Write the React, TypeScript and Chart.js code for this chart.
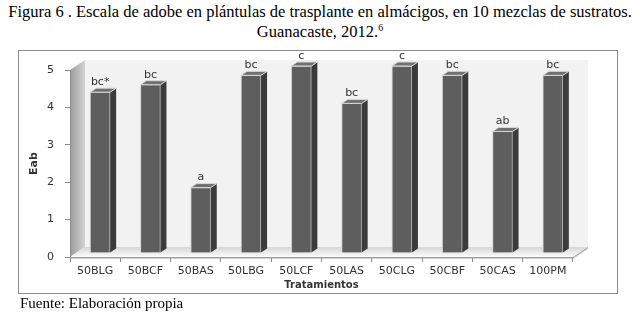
import React, { useEffect, useRef } from "react";
import { Chart, registerables } from "chart.js";

Chart.register(...registerables);

const categories = ["50BLG", "50BCF", "50BAS", "50LBG", "50LCF", "50LAS", "50CLG", "50CBF", "50CAS", "100PM"];
const values = [4.3, 4.5, 1.75, 4.75, 5.0, 4.0, 5.0, 4.75, 3.25, 4.75];
const letters = ["bc*", "bc", "a", "bc", "c", "bc", "c", "bc", "ab", "bc"];
const yMin = 0;
const yMax = 5;
const yStep = 1;
const yTitle = "Eab";
const xTitle = "Tratamientos";
const titleLine1 = "Figura 6 . Escala de adobe en plántulas de trasplante en almácigos, en 10 mezclas de sustratos.";
const titleLine2 = "Guanacaste, 2012.";
const titleNote = "6";
const footer = "Fuente: Elaboración propia";

// 3D look
const WALL_DX = 15;
const WALL_DY = -10;
const BAR_SHIFT_X = 5;
const BAR_SHIFT_Y = -4;
const BAR_DX = 6;
const BAR_DY = -4;

const threeD = {
  id: "threeD",
  beforeDraw(chart: any) {
    const { ctx, chartArea } = chart;
    const { left, right, top, bottom } = chartArea;
    ctx.save();
    // back wall
    ctx.fillStyle = "#f2f2f2";
    ctx.fillRect(left + WALL_DX, top + WALL_DY, right - left, bottom - top);
    // left wall
    const g = ctx.createLinearGradient(left, 0, left + WALL_DX, 0);
    g.addColorStop(0, "#9c9c9c");
    g.addColorStop(1, "#d2d2d2");
    ctx.fillStyle = g;
    ctx.beginPath();
    ctx.moveTo(left, bottom);
    ctx.lineTo(left, top);
    ctx.lineTo(left + WALL_DX, top + WALL_DY);
    ctx.lineTo(left + WALL_DX, bottom + WALL_DY);
    ctx.closePath();
    ctx.fill();
    // floor slab
    ctx.fillStyle = "#cfcfcf";
    ctx.beginPath();
    ctx.moveTo(left, bottom);
    ctx.lineTo(right, bottom);
    ctx.lineTo(right + WALL_DX, bottom + WALL_DY);
    ctx.lineTo(right + WALL_DX, bottom + WALL_DY + 2);
    ctx.lineTo(right, bottom + 2);
    ctx.lineTo(left, bottom + 2);
    ctx.closePath();
    ctx.fill();
    // floor top
    const fg = ctx.createLinearGradient(0, bottom + WALL_DY, 0, bottom);
    fg.addColorStop(0, "#d6d6d6");
    fg.addColorStop(1, "#fbfbfb");
    ctx.fillStyle = fg;
    ctx.beginPath();
    ctx.moveTo(left, bottom);
    ctx.lineTo(right, bottom);
    ctx.lineTo(right + WALL_DX, bottom + WALL_DY);
    ctx.lineTo(left + WALL_DX, bottom + WALL_DY);
    ctx.closePath();
    ctx.fill();
    ctx.strokeStyle = "#a8a8a8";
    ctx.lineWidth = 1;
    ctx.beginPath();
    ctx.moveTo(right, bottom + 0.5);
    ctx.lineTo(right + WALL_DX, bottom + WALL_DY + 0.5);
    ctx.stroke();
    ctx.restore();
  },
  beforeDatasetsDraw(chart: any) {
    chart.ctx.save();
    chart.ctx.translate(BAR_SHIFT_X, BAR_SHIFT_Y);
  },
  afterDatasetsDraw(chart: any) {
    const { ctx } = chart;
    const meta = chart.getDatasetMeta(0);
    meta.data.forEach((bar: any, i: number) => {
      const { x, y, base, width } = bar.getProps(["x", "y", "base", "width"], true);
      const l = x - width / 2;
      const r = x + width / 2;
      // side face
      ctx.fillStyle = "#3b3b3b";
      ctx.beginPath();
      ctx.moveTo(r, y);
      ctx.lineTo(r + BAR_DX, y + BAR_DY);
      ctx.lineTo(r + BAR_DX, base + BAR_DY);
      ctx.lineTo(r, base);
      ctx.closePath();
      ctx.fill();
      // top face
      ctx.fillStyle = "#707070";
      ctx.beginPath();
      ctx.moveTo(l, y);
      ctx.lineTo(l + BAR_DX, y + BAR_DY);
      ctx.lineTo(r + BAR_DX, y + BAR_DY);
      ctx.lineTo(r, y);
      ctx.closePath();
      ctx.fill();
      ctx.strokeStyle = "#d8d8d8";
      ctx.lineWidth = 1;
      ctx.stroke();
      // letter
      ctx.fillStyle = "#333333";
      ctx.font = "11px 'DejaVu Sans'";
      ctx.textAlign = "center";
      ctx.textBaseline = "middle";
      ctx.fillText(letters[i], x, y - 10);
    });
    ctx.restore();
  },
};

function ChartView() {
  const ref = useRef<HTMLCanvasElement | null>(null);
  useEffect(() => {
    if (!ref.current) return;
    Chart.defaults.font.family = "'DejaVu Sans', Verdana, sans-serif";
    Chart.defaults.color = "#333333";
    const chart = new Chart(ref.current, {
      type: "bar",
      data: {
        labels: categories,
        datasets: [
          {
            data: values,
            backgroundColor: "#5e5e5e",
            borderColor: "#d0d0d0",
            borderWidth: 1,
            barThickness: 20,
            clip: false as any,
          },
        ],
      },
      options: {
        animation: false,
        responsive: false,
        devicePixelRatio: 1,
        layout: { padding: { left: 18, right: 67, top: 70, bottom: 21 } },
        plugins: { legend: { display: false }, tooltip: { enabled: false }, title: { display: false } },
        scales: {
          x: {
            afterFit: (s: any) => {
              s.height = 36;
            },
            grid: { drawOnChartArea: false, drawTicks: true, tickLength: 5, color: "#8c8c8c", offset: true },
            border: { display: true, color: "#a0a0a0" },
            ticks: { font: { size: 11 }, padding: 3, color: "#333333", maxRotation: 0, autoSkip: false },
            title: { display: true, text: xTitle, font: { size: 10, weight: "bold" }, padding: { top: 0, bottom: 2 }, color: "#333333" },
          },
          y: {
            min: yMin,
            max: yMax,
            afterFit: (s: any) => {
              s.width = 52;
            },
            grid: { drawOnChartArea: false, drawTicks: true, tickLength: 5, color: "#8c8c8c" },
            border: { display: true, color: "#8c8c8c" },
            ticks: { stepSize: yStep, font: { size: 11 }, padding: 11, color: "#333333" },
            title: { display: true, text: yTitle, font: { size: 11, weight: "bold" }, padding: { top: 10, bottom: 0 }, color: "#333333" },
          },
        },
      },
      plugins: [threeD],
    });
    return () => chart.destroy();
  }, []);
  return (
    <canvas
      ref={ref}
      width={640}
      height={314}
      style={{ position: "absolute", left: 0, top: 0, width: 640, height: 314 }}
    />
  );
}

export default function App() {
  const serif = "'Liberation Serif', 'Times New Roman', serif";
  return (
    <div style={{ position: "fixed", left: 0, top: 0, width: 640, height: 314, background: "#fff", overflow: "hidden" }}>
      <div
        style={{
          position: "absolute",
          left: 0,
          top: 2,
          width: 640,
          textAlign: "center",
          fontFamily: serif,
          fontSize: 16.5,
          lineHeight: "20px",
          color: "#000",
          whiteSpace: "nowrap",
        }}
      >
        <div>{titleLine1}</div>
        <div>
          {titleLine2}
          <sup style={{ fontSize: 10, verticalAlign: "6px", lineHeight: 0 }}>{titleNote}</sup>
        </div>
      </div>
      <div
        style={{
          position: "absolute",
          left: 18,
          top: 50,
          width: 600,
          height: 244,
          boxSizing: "border-box",
          border: "1px solid #8a8a8a",
        }}
      />
      <ChartView />
      <div
        style={{
          position: "absolute",
          left: 20,
          top: 295,
          fontFamily: serif,
          fontSize: 15,
          lineHeight: "17px",
          color: "#000",
          whiteSpace: "nowrap",
        }}
      >
        {footer}
      </div>
    </div>
  );
}
